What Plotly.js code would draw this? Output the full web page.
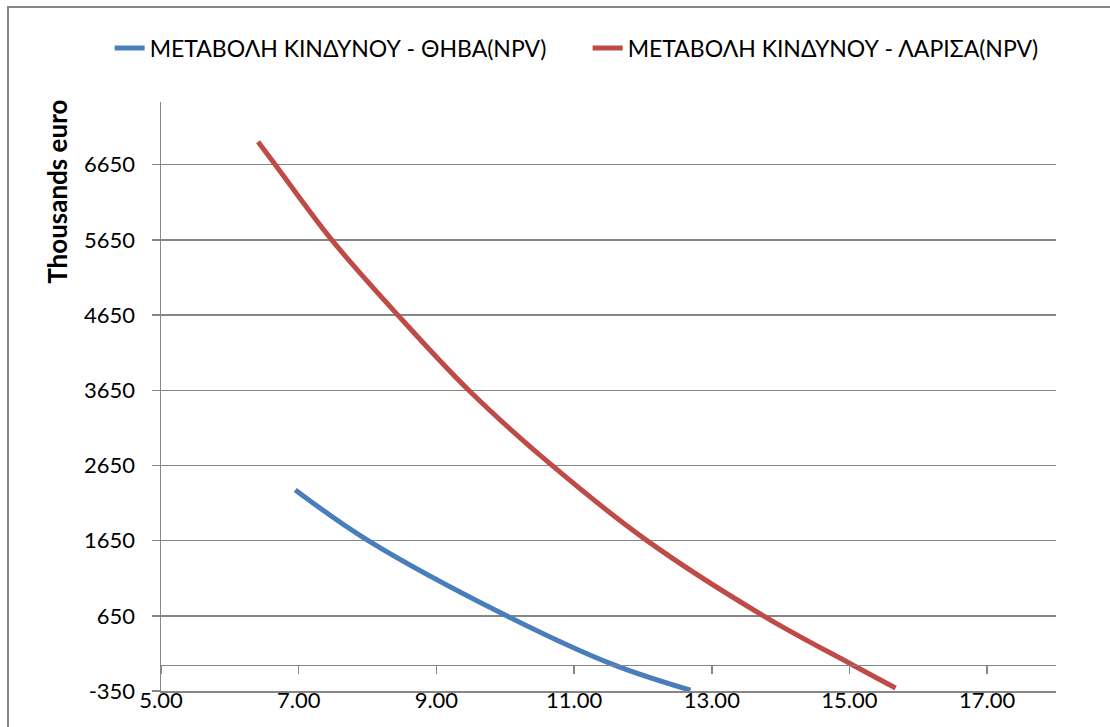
<!DOCTYPE html>
<html>
<head>
<meta charset="utf-8">
<script src="https://cdn.plot.ly/plotly-3.0.1.min.js"></script>
<style>
html,body{margin:0;padding:0;background:#fff;overflow:hidden}
#wrap{position:relative;width:1110px;height:727px}
#chart{width:1110px;height:727px}
#frame{position:absolute;left:7px;top:6px;width:1200px;height:800px;border-left:2px solid #868686;border-top:2px solid #868686;pointer-events:none;z-index:10}
</style>
</head>
<body>
<div id="wrap"><div id="chart"></div><div id="frame"></div></div>
<script>
// Series: ΘΗΒΑ (blue) — discount rate vs NPV (thousands euro)
var thivaX = [6.95, 8.01, 10.02, 11.57, 12.69];
var thivaY = [2324, 1650, 650, 0, -340];
// Series: ΛΑΡΙΣΑ (red)
var larisaX = [6.41, 6.66, 7.48, 8.44, 9.47, 10.68, 12.06, 13.75, 15.04, 15.67];
var larisaY = [6956, 6650, 5650, 4650, 3650, 2650, 1650, 650, 0, -310];

var seriesNames = ["ΜΕΤΑΒΟΛΗ ΚΙΝΔΥΝΟΥ - ΘΗΒΑ(NPV)", "ΜΕΤΑΒΟΛΗ ΚΙΝΔΥΝΟΥ - ΛΑΡΙΣΑ(NPV)"];
var xTicks = [5, 7, 9, 11, 13, 15, 17];
var yTicks = [-350, 650, 1650, 2650, 3650, 4650, 5650, 6650];
var yTitle = "Thousands euro";

var xRange = [5, 18];
var yRange = [-350, 7484];
var gray = "#868686";
var font = "Lato, 'Open Sans', sans-serif";

var traces = [
  {x: thivaX, y: thivaY, name: seriesNames[0], type: "scatter", mode: "lines",
   line: {color: "#4A7EBB", width: 5, shape: "spline", smoothing: 1}},
  {x: larisaX, y: larisaY, name: seriesNames[1], type: "scatter", mode: "lines",
   line: {color: "#BE4B48", width: 5, shape: "spline", smoothing: 1}},
  // empty trace that makes the crossing axis (at y = 0) get drawn
  {x: [], y: [], xaxis: "x2", type: "scatter", mode: "lines", showlegend: false, hoverinfo: "skip"}
];

var zeroPos = (0 - yRange[0]) / (yRange[1] - yRange[0]);

var layout = {
  width: 1110, height: 727,
  margin: {l: 161, r: 54, t: 102, b: 36, autoexpand: false},
  paper_bgcolor: "#fff", plot_bgcolor: "#fff",
  font: {family: font, color: "#000", size: 22},
  showlegend: true,
  legend: {orientation: "h", x: -0.0574, y: 1.0917, xanchor: "left", yanchor: "middle",
           font: {family: font, size: 23, color: "#000"},
           entrywidth: 433, entrywidthmode: "pixels", bgcolor: "rgba(0,0,0,0)"},
  xaxis: {range: xRange, tickvals: xTicks, ticktext: xTicks.map(function(v){return v.toFixed(2);}),
          showgrid: false, zeroline: false, showline: true, linecolor: gray, linewidth: 1.5,
          ticks: "", ticklabelstandoff: -11, tickfont: {family: font, size: 22}, fixedrange: true},
  xaxis2: {overlaying: "x", anchor: "free", position: zeroPos, side: "bottom", range: xRange,
           tickvals: xTicks, showticklabels: false, ticks: "outside", ticklen: 8, tickwidth: 1.5,
           tickcolor: gray, showline: true, linecolor: gray, linewidth: 1.5, showgrid: false,
           zeroline: false, fixedrange: true},
  yaxis: {range: yRange, tickvals: yTicks, ticktext: yTicks.map(String), showgrid: true,
          gridcolor: gray, gridwidth: 1.5, zeroline: false, showline: true, linecolor: gray,
          linewidth: 1.5, ticks: "outside", ticklen: 8, tickwidth: 1.5, tickcolor: gray,
          ticklabelstandoff: 12, tickfont: {family: font, size: 22}, fixedrange: true},
  annotations: [
    {text: "<b>" + yTitle + "</b>", textangle: -90, xref: "paper", yref: "paper",
     x: -0.117, y: 0.848, xanchor: "center", yanchor: "middle", showarrow: false,
     font: {family: font, size: 26, color: "#000"}}
  ]
};

Plotly.newPlot("chart", traces, layout, {displayModeBar: false, staticPlot: true});
</script>
</body>
</html>
